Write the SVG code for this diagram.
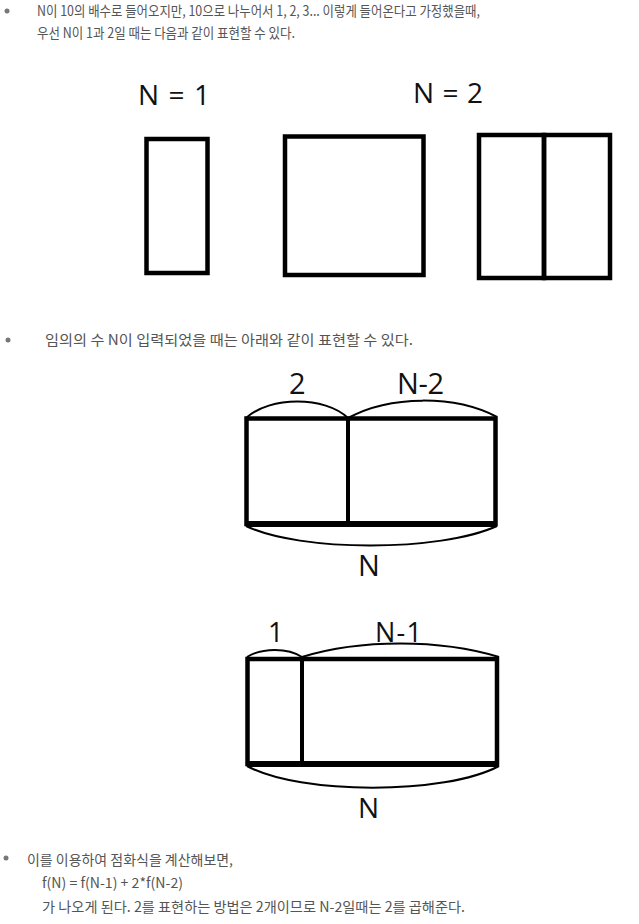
<svg xmlns="http://www.w3.org/2000/svg" width="639" height="924" viewBox="0 0 639 924">
<style>
.t{font-family:"Noto Sans CJK KR","Noto Sans",sans-serif;font-size:14px;fill:#555}
.lbl{font-family:"Open Sans","DejaVu Sans",sans-serif;fill:#111}
.box{fill:none;stroke:#000;stroke-width:4.5}
.brace{fill:none;stroke:#000;stroke-width:2}
.dot{fill:#777}
</style>
<rect width="639" height="924" fill="#fff"/>
<g id="text-top">
<circle class="dot" cx="7" cy="11" r="2.5"/>
<text class="t" x="37" y="16" textLength="443" lengthAdjust="spacingAndGlyphs">N이 10의 배수로 들어오지만, 10으로 나누어서 1, 2, 3... 이렇게 들어온다고 가정했을때,</text>
<text class="t" x="37" y="38" textLength="258" lengthAdjust="spacingAndGlyphs">우선 N이 1과 2일 때는 다음과 같이 표현할 수 있다.</text>
</g>
<g id="n1">
<text class="lbl" x="138" y="105" font-size="28" textLength="72">N = 1</text>
<rect class="box" x="146.5" y="139" width="61" height="134"/>
</g>
<g id="n2">
<text class="lbl" x="413" y="103" font-size="28" textLength="70">N = 2</text>
<rect class="box" x="285" y="136.5" width="138.5" height="138.5"/>
<rect class="box" x="479" y="135" width="65" height="143"/>
<rect class="box" x="544" y="135" width="66" height="143"/>
</g>
<g id="text-mid">
<circle class="dot" cx="8" cy="340" r="2.5"/>
<text class="t" x="45" y="345" textLength="368" lengthAdjust="spacingAndGlyphs">임의의 수 N이 입력되었을 때는 아래와 같이 표현할 수 있다.</text>
</g>
<g id="fig-n2">
<rect class="box" x="246.5" y="418.5" width="249" height="105.5"/>
<line x1="248" y1="524" x2="495" y2="524" stroke="#000" stroke-width="6"/>
<line x1="348" y1="418" x2="348" y2="524" stroke="#000" stroke-width="4"/>
<text class="lbl" x="289" y="394" font-size="29" textLength="14">2</text>
<text class="lbl" x="397" y="394" font-size="29" textLength="47">N-2</text>
<text class="lbl" x="358" y="576" font-size="29" textLength="17">N</text>
</g>
<g id="fig-n1">
<rect class="box" x="247.5" y="659" width="249.5" height="105"/>
<line x1="249" y1="764" x2="497" y2="764" stroke="#000" stroke-width="6"/>
<line x1="302" y1="658" x2="302" y2="764" stroke="#000" stroke-width="4"/>
<text class="lbl" x="268" y="642" font-size="27" textLength="9">1</text>
<text class="lbl" x="375" y="642" font-size="27" textLength="47">N-1</text>
<text class="lbl" x="358" y="818" font-size="28" textLength="18">N</text>
</g>
<g id="connectors">
<path class="brace" d="M246,418 C270,396 325,396 348,418"/>
<path class="brace" d="M348,418 C390,395 455,395 497,417"/>
<path class="brace" d="M246,526 C300,552 440,552 497,526"/>
<path class="brace" d="M247,657 C262,647.5 288,647.5 302,657"/>
<path class="brace" d="M302,657 C360,639 440,639 499,657"/>
<path class="brace" d="M247,766 C300,795 445,795 499,766"/>
</g>
<g id="text-bottom">
<circle class="dot" cx="6" cy="858" r="2.5"/>
<text class="t" x="27" y="865" textLength="206" lengthAdjust="spacingAndGlyphs">이를 이용하여 점화식을 계산해보면,</text>
<text class="t" x="42" y="888" textLength="141" lengthAdjust="spacingAndGlyphs">f(N) = f(N-1) + 2*f(N-2)</text>
<text class="t" x="42" y="912" textLength="423" lengthAdjust="spacingAndGlyphs">가 나오게 된다. 2를 표현하는 방법은 2개이므로 N-2일때는 2를 곱해준다.</text>
</g>
</svg>
